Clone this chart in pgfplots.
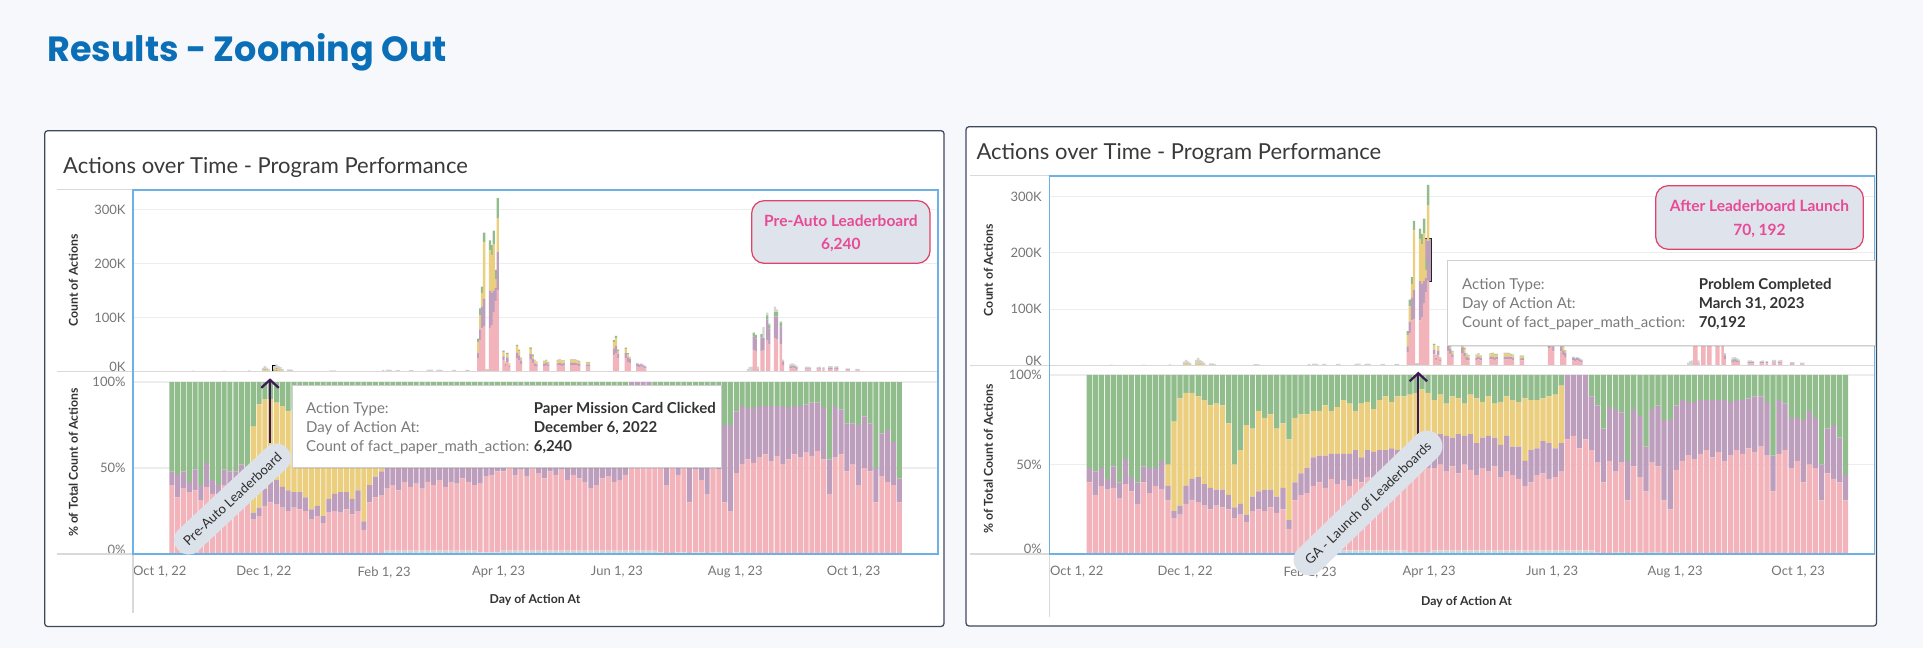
\documentclass[border=0pt]{standalone}
\usepackage{fontspec}
\setmainfont{Lato}
\newfontfamily\titlefont{Poppins}
\usepackage{pgfplots}
\pgfplotsset{compat=1.18}
\usepackage{pgfplotstable}
\usetikzlibrary{arrows.meta,shadows}

\definecolor{bg}{HTML}{F6F8FC}
\definecolor{cpk}{HTML}{F2B4BA}
\definecolor{cpu}{HTML}{BD9EBD}
\definecolor{cye}{HTML}{EBCF7E}
\definecolor{cgn}{HTML}{91BD8C}
\definecolor{cgr}{HTML}{D4D4D4}
\definecolor{blueframe}{HTML}{6CB2E6}
\definecolor{greyline}{HTML}{D9D9D9}
\definecolor{gridc}{HTML}{EDEDED}
\definecolor{tickc}{HTML}{767676}
\definecolor{axtc}{HTML}{333333}
\definecolor{ptitle}{HTML}{3A3A3A}
\definecolor{titleblue}{HTML}{0B6FB8}
\definecolor{panelc}{HTML}{3E4A5C}
\definecolor{boxfill}{HTML}{DFE4EC}
\definecolor{boxborder}{HTML}{E0436A}
\definecolor{boxtext}{HTML}{E84A96}
\definecolor{lblfill}{HTML}{DCE2EA}
\definecolor{lbltext}{HTML}{2E2E2E}
\definecolor{arrowc}{HTML}{3B1A55}
\definecolor{ttborder}{HTML}{CFCFCF}
\definecolor{ttlab}{HTML}{7A7A7A}
\definecolor{ttval}{HTML}{333333}

\newcommand\fs[1]{\fontsize{#1pt}{#1pt}\selectfont}

% daily counts (thousands) for the upper chart
\pgfplotstableread{
d pk pu ye gn gr
24 0 0 0 0 1.5
40 0 0 0 0 1.5
53 0 0 0 0 2
60 0.5 0.3 1.5 0.5 4
61 0.8 0.4 2.5 0.5 6
62 0.5 0.3 2 0.4 4
63 0.3 0.2 1 0.3 3
66 0.8 0.4 2 0.5 6.2
67 1 0.6 4 0.8 7
68 0.8 0.5 3 0.6 5
69 0.6 0.4 2.5 0.5 4
70 0.4 0.2 1 0.3 3
73 0.2 0.1 0.8 0.2 2.5
74 0.2 0.1 0.8 0.2 2.5
75 0.2 0.1 0.6 0.2 2
95 0 0 0.3 0.2 1.8
96 0 0 0.3 0.2 1.8
97 0 0 0.3 0.2 1.5
122 0.3 0.1 0.3 0.1 2
124 0.3 0.1 0.3 0.1 2.5
125 0.3 0.1 0.3 0.1 2.5
126 0.3 0.1 0.3 0.1 2
129 0.3 0.1 0.2 0.1 2
130 0.3 0.1 0.2 0.1 2
136 0.3 0.1 0.2 0.1 2
137 0.3 0.1 0.2 0.1 2
145 0.4 0.2 0.2 0.1 2
146 0.4 0.2 0.2 0.1 2.5
147 0.4 0.2 0.2 0.1 2.5
150 0.4 0.2 0.2 0.1 2
151 0.4 0.2 0.2 0.1 2.5
152 0.4 0.2 0.2 0.1 2
158 0.4 0.2 0.2 0.1 2
159 0.4 0.2 0.2 0.1 2
165 0.5 0.2 0.2 0.1 2
166 0.5 0.2 0.2 0.1 2
171 24 10 20 7 0
172 58 20 27 12 0
173 80 40 25 12 0
174 83 52 105 17 0
175 1 0.5 0.5 0.3 2
176 1 0.5 0.5 0.3 2
177 80 70 75 18 0
178 85 60 70 19 0
179 110 40 85 26 0
180 130 25 15 18 0
181 151 70 63 37 0
184 20 8 8 2 1
185 10 4 3 1 1
186 18 8 6 2 1
187 8 3 2 1 1
191 25 10 12 2 1
192 20 10 8 2 1
193 14 6 4 1 1
198 22 10 10 2 1
199 16 7 6 2 1
200 10 5 5 1 1
201 9 4 4 1 1
205 10 4 4 1 1
206 11 5 4 1 1
207 9 4 3 1 1
212 11 4 5 1 1
213 12 4 5 1 1
214 10 4 5 1 1
215 11 4 4 1 1
219 12 4 5 1 1
220 11 5 5 1 1
221 12 4 5 1 1
222 11 4 4 1 1
223 10 4 4 1 1
227 9 3 4 1 1
228 9 4 3 1 1
241 30 12 12 4 0
242 34 14 14 4 0
243 25 8 5 2 1
247 25 9 8 2 0
248 18 8 6 2 0
249 15 8 3 1 0
253 9 5 0 0 2
254 8 4 0 0 2
255 9 4 0 0 2
256 7 4 0 0 2
257 6 3 0 0 2
310 0 0 0 0 5
311 0 0 0 0 8
312 0 0 0 0 9
313 40 25 0 7 0
314 38 23 0 7 0
315 3 1 0 0 5
317 38 25 0 6 0
318 40 20 0 2 20
320 58 38 0 8 5
321 50 30 0 7 2
324 62 40 0 8 10
325 60 42 0 8 5
327 50 33 0 8 2
328 12 6 0 1 3
332 6 3 0 1 4
333 7 3 0 1 4
334 6 3 0 1 3
335 5 2 0 1 3
340 4 2 0 0 3
341 4 2 0 0 3
342 4 2 0 0 2
346 4 2 0 0 2
347 4 2 0 0 3
349 4 2 0 0 2
352 5 2 0 0 3
353 5 2 0 0 3
355 4 2 0 0 3
356 5 2 0 0 3
361 3 1 0 0 2
362 3 1 0 0 2
366 2 1 0 0 2
367 2 1 0 0 2
}\topdata

% shares (percent) per three-day bin for the lower chart
\pgfplotstableread{
d gr pk pu ye gn
12 0 40 8 0 52
15 0 33 13 0 54
18 0 38 10 0 52
21 0 36 6 0 58
24 0 37 12 0 51
27 0 31 9 0 60
30 0 39 14 0 47
33 0 35 8 0 57
36 0 28 12 0 60
39 0 40 9 0 51
42 0 34 14 0 52
45 0 38 10 0 52
48 0 36 16 0 48
51 0 30 8 12 50
54 0 20 4 50 26
57 0 22 5 60 13
60 0 28 10 52 10
63 0 30 12 48 10
66 0 29 14 45 12
69 0 27 12 47 14
72 0 25 12 46 17
75 0 27 9 48 16
78 0 26 10 47 17
81 0 25 8 40 27
84 0 20 6 24 50
87 0 22 6 30 42
90 0 18 4 50 28
93 0 24 8 38 30
96 0 25 10 45 20
99 0 24 12 40 24
102 0 26 10 42 22
105 0 23 9 38 30
108 0 25 12 36 27
111 0 14 5 45 36
114 0 30 10 36 24
117 0 33 12 33 22
120 0 34 14 30 22
123 2 36 16 26 20
126 2 38 15 25 20
129 2 35 18 28 17
132 2 40 14 24 20
135 2 37 17 26 18
138 2 39 15 30 14
141 2 36 18 28 16
144 2 40 16 22 20
147 2 38 14 30 16
150 2 41 15 27 15
153 2 37 18 24 19
156 2 40 16 28 14
159 2 39 17 30 12
162 2 42 15 26 15
165 2 40 16 30 12
168 2 38 14 34 12
171 1 40 15 33 11
174 1 44 17 28 10
177 1 45 20 26 8
180 1 47 20 22 10
183 2 46 18 20 14
186 2 48 17 22 11
189 2 44 20 18 16
192 2 47 16 23 12
195 2 43 22 20 13
198 2 48 16 18 16
201 2 45 20 22 11
204 2 42 18 25 13
207 2 46 17 20 15
210 2 44 20 22 12
213 2 47 16 19 16
216 2 41 18 24 15
219 2 44 20 22 12
222 2 42 16 26 14
225 2 40 18 25 15
228 2 36 14 35 13
231 2 38 18 28 14
234 2 42 15 27 14
237 2 43 18 24 13
240 2 40 20 26 12
243 2 41 16 30 11
246 2 44 16 32 6
249 2 62 36 0 0
252 2 64 34 0 0
255 2 57 41 0 0
258 2 62 36 0 0
261 2 56 30 0 12
264 1 50 32 0 17
267 0 40 30 0 30
270 0 52 30 0 18
273 1 45 35 0 19
276 1 50 28 0 21
279 0 30 22 0 48
282 1 48 32 0 19
285 1 42 34 0 23
288 0 35 25 0 40
291 1 50 30 0 19
294 1 48 34 0 17
297 0 30 45 0 25
300 0 25 50 0 25
303 1 46 36 0 17
306 0 52 34 0 14
309 0 55 30 0 15
312 0 53 32 0 15
315 0 56 30 0 14
318 0 58 28 0 14
321 0 54 32 0 14
324 0 57 29 0 14
327 0 52 34 0 14
330 0 55 30 0 15
333 0 58 28 0 14
336 0 56 30 0 14
339 0 59 28 0 13
342 0 57 31 0 12
345 0 60 28 0 12
348 0 55 30 0 15
351 0 35 20 0 45
354 0 56 30 0 14
357 0 58 26 0 16
360 0 48 28 0 24
363 0 52 24 0 24
366 0 40 35 0 25
369 0 50 30 0 20
372 0 48 28 0 24
375 0 30 20 0 50
378 0 45 25 0 30
381 0 42 30 0 28
384 0 40 25 0 35
387 0 30 14 0 56
}\botdata

\pgfplotsset{
  base/.style={scale only axis, ybar stacked, clip=false,
    axis line style={draw=none}, major tick length=0pt,
    ymajorgrids, grid style={draw=gridc, line width=0.45pt},
    yticklabel style={font=\fs{5.2}, text=tickc, anchor=east, inner sep=0pt, xshift=-2.8pt},
    xticklabel style={font=\fs{5.2}, text=tickc, anchor=north, inner sep=0pt, yshift=-4.8pt},
    every axis plot/.append style={draw=none}},
  topax/.style={base, xtick=\empty, ymin=0, ytick={0,100,200,300}, bar width=1.2},
  botax/.style={base, ymin=0, ytick={0,50,100}, bar width=2.6,
    xtick={0,61,123,182,243,304,365}},
}

\newcommand\topplots{%
  \addplot[fill=cpk] table[x expr=\thisrow{d}+0.5, y=pk]{\topdata};
  \addplot[fill=cpu] table[x expr=\thisrow{d}+0.5, y=pu]{\topdata};
  \addplot[fill=cye] table[x expr=\thisrow{d}+0.5, y=ye]{\topdata};
  \addplot[fill=cgn] table[x expr=\thisrow{d}+0.5, y=gn]{\topdata};
  \addplot[fill=cgr] table[x expr=\thisrow{d}+0.5, y=gr]{\topdata};
}
\newcommand\botplots{%
  \addplot[fill=cgr] table[x expr=\thisrow{d}+1.5, y=gr]{\botdata};
  \addplot[fill=cpk] table[x expr=\thisrow{d}+1.5, y=pk]{\botdata};
  \addplot[fill=cpu] table[x expr=\thisrow{d}+1.5, y=pu]{\botdata};
  \addplot[fill=cye] table[x expr=\thisrow{d}+1.5, y=ye]{\botdata};
  \addplot[fill=cgn] table[x expr=\thisrow{d}+1.5, y=gn]{\botdata};
}

\begin{document}
\begin{tikzpicture}
% ---------- background and panels ----------
\begin{scope}[x=0.4pt,y=-0.4pt]
  \fill[bg] (0,0) rectangle (1923,648);
  \draw[panelc, line width=0.5pt, fill=white, rounded corners=1.2pt] (44.7,130.7) rectangle (944,626.5);
  \draw[panelc, line width=0.5pt, fill=white, rounded corners=1.2pt] (966,126.7) rectangle (1876.5,626);
  \node[anchor=base west, inner sep=0pt, text=titleblue, font=\titlefont\bfseries\fs{14}] at (46.7,61.7) {Results - Zooming Out};
  \node[anchor=base west, inner sep=0pt, text=ptitle, font=\fs{8.8}] at (62.7,173.3) {Actions over Time - Program Performance};
  \node[anchor=base west, inner sep=0pt, text=ptitle, font=\fs{8.8}] at (976,159) {Actions over Time - Program Performance};
  \node[rotate=90, inner sep=0pt, text=axtc, font=\bfseries\fs{4.9}] at (73.3,280.5) {Count of Actions};
  \node[rotate=90, inner sep=0pt, text=axtc, font=\bfseries\fs{4.9}] at (73.3,462.5) {\% of Total Count of Actions};
  \node[inner sep=0pt, text=axtc, font=\bfseries\fs{4.9}] at (535,600) {Day of Action At};
  \node[rotate=90, inner sep=0pt, text=axtc, font=\bfseries\fs{4.9}] at (988.3,270) {Count of Actions};
  \node[rotate=90, inner sep=0pt, text=axtc, font=\bfseries\fs{4.9}] at (988.3,459) {\% of Total Count of Actions};
  \node[inner sep=0pt, text=axtc, font=\bfseries\fs{4.9}] at (1466.5,601.7) {Day of Action At};
\end{scope}

% ---------- panel 1 ----------
\begin{axis}[topax, at={(133*0.4pt,-371.5*0.4pt)}, anchor=south west,
  width=322pt, height=72.6pt, xmin=-6.49, xmax=408.5, ymax=336.1,
  yticklabels={\raisebox{3.6pt}{0K},100K,200K,300K}]
  \topplots
  \draw[black, line width=0.45pt, fill=cye] (axis cs:65.6,2) rectangle (axis cs:67.6,11.5);
\end{axis}
\begin{axis}[botax, at={(133*0.4pt,-554*0.4pt)}, anchor=south west,
  width=322pt, height=72.92pt, xmin=-6.49, xmax=408.5, ymax=106,
  yticklabels={\raisebox{3.6pt}{0\%},50\%,100\%},
  xticklabels={{\makebox[0pt][l]{\hspace{-5pt}Oct 1, 22}},{Dec 1, 22},{Feb 1, 23},{Apr 1, 23},{Jun 1, 23},{Aug 1, 23},{Oct 1, 23}}]
  \botplots
\end{axis}

% ---------- panel 2 ----------
\begin{axis}[topax, at={(1049.3*0.4pt,-365.5*0.4pt)}, anchor=south west,
  width=330.28pt, height=75.8pt, xmin=-6.3, xmax=403.1, ymax=336.6,
  yticklabels={\raisebox{4pt}{0K},100K,200K,300K}]
  \topplots
  \draw[black!85, line width=0.4pt, fill=cpu] (axis cs:179.9,150) rectangle (axis cs:183.0,226);
\end{axis}
\begin{axis}[botax, at={(1049.3*0.4pt,-554*0.4pt)}, anchor=south west,
  width=330.28pt, height=75.4pt, xmin=-6.3, xmax=403.1, ymax=105.3,
  yticklabels={\raisebox{4pt}{0\%},50\%,100\%},
  xticklabels={{\makebox[0pt][l]{\hspace{-4.8pt}Oct 1, 22}},{Dec 1, 22},{Feb 1, 23},{Apr 1, 23},{Jun 1, 23},{Aug 1, 23},{Oct 1, 23}}]
  \botplots
\end{axis}

% ---------- frames, tooltips, annotations ----------
\begin{scope}[x=0.4pt,y=-0.4pt]
  % panel 1 frame
  \draw[greyline, line width=0.5pt] (57,189.6) -- (133,189.6);
  \draw[greyline, line width=0.5pt] (57,371.6) -- (938,371.6);
  \draw[greyline, line width=0.5pt] (57,554) -- (133,554);
  \draw[greyline, line width=0.5pt] (133,554) -- (133,613);
  \draw[blueframe, line width=0.5pt] (133,190) rectangle (938,554);
  % panel 2 frame
  \draw[greyline, line width=0.5pt] (970,175.8) -- (1049.3,175.8);
  \draw[greyline, line width=0.5pt] (970,365.5) -- (1874,365.5);
  \draw[greyline, line width=0.5pt] (970,554) -- (1049.3,554);
  \draw[greyline, line width=0.5pt] (1049.3,554) -- (1049.3,616.7);
  \draw[blueframe, line width=0.5pt] (1049.3,176) rectangle (1874.5,554);

  % arrows
  \draw[arrowc, line width=0.9pt, -{Straight Barb[length=3.2pt,width=7pt,line width=0.9pt]}] (270,443) -- (270,378.3);
  \draw[arrowc, line width=0.9pt, -{Straight Barb[length=3.2pt,width=7pt,line width=0.9pt]}] (1418.3,436) -- (1418.3,371.7);

  % tooltip panel 1
  \draw[ttborder, fill=white, line width=0.4pt, drop shadow={shadow xshift=0.5pt, shadow yshift=-0.8pt, opacity=0.18}] (292.7,385) rectangle (721,467.3);
  \node[anchor=base west, inner sep=0pt, text=ttlab, font=\fs{6}] at (305.7,413.7) {Action Type:};
  \node[anchor=base west, inner sep=0pt, text=ttlab, font=\fs{6}] at (305.7,432.2) {Day of Action At:};
  \node[anchor=base west, inner sep=0pt, text=ttlab, font=\fs{6}] at (305.7,451.0) {Count of fact\_paper\_math\_action:};
  \node[anchor=base west, inner sep=0pt, text=ttval, font=\bfseries\fs{6}] at (533.3,413.7) {Paper Mission Card Clicked};
  \node[anchor=base west, inner sep=0pt, text=ttval, font=\bfseries\fs{6}] at (533.3,432.2) {December 6, 2022};
  \node[anchor=base west, inner sep=0pt, text=ttval, font=\bfseries\fs{6}] at (533.3,451.0) {6,240};

  % tooltip panel 2
  \draw[ttborder, fill=white, line width=0.4pt, drop shadow={shadow xshift=0.5pt, shadow yshift=-0.8pt, opacity=0.18}] (1447.7,260) rectangle (1875,345);
  \node[anchor=base west, inner sep=0pt, text=ttlab, font=\fs{6}] at (1461.7,289.4) {Action Type:};
  \node[anchor=base west, inner sep=0pt, text=ttlab, font=\fs{6}] at (1461.7,308.7) {Day of Action At:};
  \node[anchor=base west, inner sep=0pt, text=ttlab, font=\fs{6}] at (1461.7,327.7) {Count of fact\_paper\_math\_action:};
  \node[anchor=base west, inner sep=0pt, text=ttval, font=\bfseries\fs{6}] at (1698.3,289.4) {Problem Completed};
  \node[anchor=base west, inner sep=0pt, text=ttval, font=\bfseries\fs{6}] at (1698.3,308.7) {March 31, 2023};
  \node[anchor=base west, inner sep=0pt, text=ttval, font=\bfseries\fs{6}] at (1698.3,327.7) {70,192};

  % callout boxes
  \draw[boxborder, fill=boxfill, line width=0.5pt, rounded corners=5pt] (751.7,200.7) rectangle (930,263.3);
  \node[anchor=base, inner sep=0pt, text=boxtext, font=\bfseries\fs{6.2}] at (840.9,226) {Pre-Auto Leaderboard};
  \node[anchor=base, inner sep=0pt, text=boxtext, font=\bfseries\fs{6.2}] at (840.9,249.3) {6,240};
  \draw[boxborder, fill=boxfill, line width=0.5pt, rounded corners=5pt] (1655.7,185.7) rectangle (1863.3,249.3);
  \node[anchor=base, inner sep=0pt, text=boxtext, font=\bfseries\fs{6.2}] at (1759.5,211.7) {After Leaderboard Launch};
  \node[anchor=base, inner sep=0pt, text=boxtext, font=\bfseries\fs{6.2}] at (1759.5,235) {70, 192};

  % rotated labels
  \node[rotate=43, fill=lblfill, rounded corners=5.5pt, inner xsep=4pt, inner ysep=3.8pt, text=lbltext, font=\fs{5.3}] at (232.5,499) {Pre-Auto Leaderboard};
  \node[rotate=44, fill=lblfill, rounded corners=6pt, inner xsep=5pt, inner ysep=4.2pt, text=lbltext, font=\fs{5.3}] at (1368,503) {GA - Launch of Leaderboards};
\end{scope}
\end{tikzpicture}
\end{document}
